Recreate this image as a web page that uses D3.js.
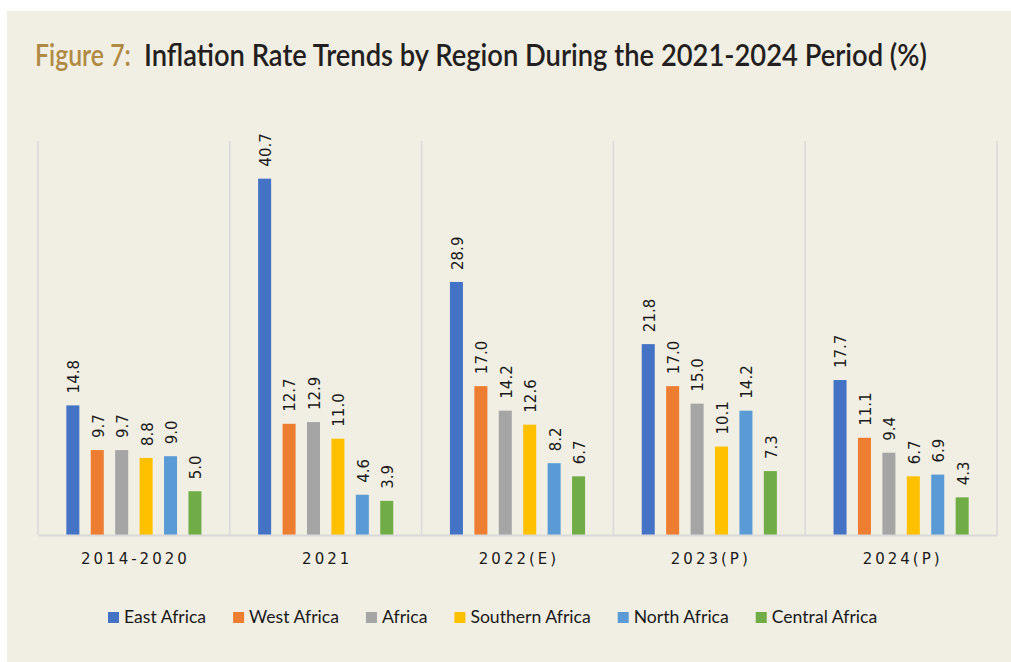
<!DOCTYPE html>
<html>
<head>
<meta charset="utf-8">
<script src="https://cdn.jsdelivr.net/npm/d3@7"></script>
<style>
  html, body { margin: 0; padding: 0; background: #ffffff; }
  svg { display: block; }
</style>
</head>
<body>
<div id="container"></div>
<script>

// data
var categories = ["2014-2020", "2021", "2022(E)", "2023(P)", "2024(P)"];
var regions = ["East Africa", "West Africa", "Africa", "Southern Africa", "North Africa", "Central Africa"];
var eastAfrica     = [14.8, 40.7, 28.9, 21.8, 17.7];
var westAfrica     = [9.7, 12.7, 17.0, 17.0, 11.1];
var africa         = [9.7, 12.9, 14.2, 15.0, 9.4];
var southernAfrica = [8.8, 11.0, 12.6, 10.1, 6.7];
var northAfrica    = [9.0, 4.6, 8.2, 14.2, 6.9];
var centralAfrica  = [5.0, 3.9, 6.7, 7.3, 4.3];
var seriesValues = [eastAfrica, westAfrica, africa, southernAfrica, northAfrica, centralAfrica];

var colors = ["#4472c4", "#ed7d31", "#a5a5a5", "#ffc000", "#5b9bd5", "#70ad47"];

var width = 1011;
var height = 662;
var margin = {left: 38, top: 141, right: 14, bottom: 127};
var labelFont = "'DejaVu Sans', Verdana, sans-serif";

const svg = d3.select("#container")
              .append("svg")
              .attr("width", width)
              .attr("height", height);

// panel background
svg.append("rect")
   .attr("x", 7)
   .attr("y", 11)
   .attr("width", width - 7)
   .attr("height", height - 11)
   .attr("fill", "#f1eee3");

// scales
var x0 = d3.scaleBand()
           .domain(categories)
           .range([margin.left, width - margin.right])
           .padding(0);

var x1 = d3.scaleBand()
           .domain(regions)
           .range([0, x0.bandwidth()])
           .paddingInner(0.467)
           .paddingOuter(1.16);

var y = d3.scaleLinear()
          .domain([0, 45])
          .range([height - margin.bottom, margin.top]);

// vertical separators between categories
var edges = categories.map(c => x0(c)).concat([x0.range()[1]]);
svg.selectAll(".sep")
   .data(edges)
   .enter()
   .append("line")
   .attr("class", "sep")
   .attr("x1", d => d)
   .attr("x2", d => d)
   .attr("y1", y(45))
   .attr("y2", y(0))
   .attr("stroke", "#d9d9d9")
   .attr("stroke-width", 1.5);

// bars
var rows = [];
categories.forEach((c, i) => {
    regions.forEach((r, j) => {
        rows.push({cat: c, region: r, value: seriesValues[j][i], color: colors[j]});
    });
});

svg.selectAll(".bar")
   .data(rows)
   .enter()
   .append("rect")
   .attr("class", "bar")
   .attr("x", d => x0(d.cat) + x1(d.region))
   .attr("y", d => y(d.value))
   .attr("width", x1.bandwidth())
   .attr("height", d => y(0) - y(d.value))
   .attr("fill", d => d.color);

// value labels, rotated
svg.selectAll(".val")
   .data(rows)
   .enter()
   .append("text")
   .attr("class", "val")
   .attr("transform", d => "translate(" + (x0(d.cat) + x1(d.region) + x1.bandwidth() / 2 + 1) + "," + (y(d.value) - 12) + ") rotate(-90)")
   .attr("dy", "0.36em")
   .style("font-family", labelFont)
   .style("font-size", "15px")
   .attr("fill", "#1a1a1a")
   .text(d => d.value.toFixed(1));

// x axis
var xAxis = d3.axisBottom(x0).tickSize(0).tickPadding(18);
var gx = svg.append("g")
   .attr("transform", "translate(0," + y(0) + ")")
   .call(xAxis);
gx.select(".domain")
  .attr("stroke", "#d9d9d9")
  .attr("stroke-width", 2);
gx.selectAll(".tick text")
  .style("font-family", labelFont)
  .style("font-size", "15px")
  .attr("letter-spacing", 3)
  .attr("dx", 1.5)
  .attr("fill", "#1a1a1a");

// title, two parts, squeezed sideways to look condensed
function condensedText(x, yy, w, color, str) {
    var t = svg.append("text")
       .attr("x", 0)
       .attr("y", 0)
       .style("font-family", "Lato, sans-serif")
       .style("font-weight", 600)
       .style("font-size", "31px")
       .attr("fill", color)
       .text(str);
    var k = w / t.node().getComputedTextLength();
    t.attr("transform", "translate(" + x + "," + yy + ") scale(" + k + ",1)");
}
condensedText(35, 66, 96, "#b08a44", "Figure 7:");
condensedText(144, 66, 783, "#231f20", "Inflation Rate Trends by Region During the 2021-2024 Period (%)");

// legend
var legend = svg.append("g").attr("class", "legend");
var lx = 108;
regions.forEach((r, j) => {
    legend.append("rect")
          .attr("x", lx)
          .attr("y", 612)
          .attr("width", 11)
          .attr("height", 11)
          .attr("fill", colors[j]);
    var t = legend.append("text")
          .attr("x", lx + 16)
          .attr("y", 623)
          .style("font-family", "Lato, sans-serif")
          .style("font-size", "17.6px")
          .attr("fill", "#1a1a1a")
          .text(r);
    lx = lx + 16 + t.node().getComputedTextLength() + 27;
});

</script>
</body>
</html>
